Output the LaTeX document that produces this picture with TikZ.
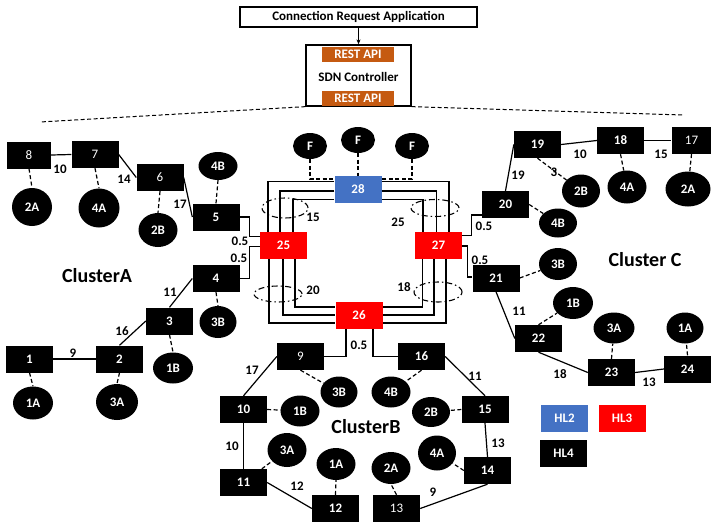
\documentclass[tikz,border=0pt]{standalone}
\usepackage{fontspec}
\setmainfont{Carlito}
\usetikzlibrary{shapes.geometric,calc,arrows.meta}
\definecolor{hltwo}{HTML}{4472C4}
\definecolor{hlthree}{HTML}{FF0000}
\definecolor{apiorange}{HTML}{C55A11}
\begin{document}
\begin{tikzpicture}[x=1pt,y=-1pt,
  nf/.style={font=\fontsize{13}{14}\selectfont\bfseries},
  sw/.style={rectangle,fill=black,text=white,minimum width=47pt,minimum height=27pt,inner sep=0pt,nf},
  swl/.style={sw,font=\fontsize{13}{14}\selectfont},
  hl3/.style={sw,fill=hlthree},
  hl2/.style={sw,fill=hltwo},
  host/.style={ellipse,fill=black,text=white,minimum width=39pt,minimum height=32pt,inner sep=0pt,nf},
  sz/.style 2 args={minimum width=#1pt,minimum height=#2pt},
  lbl/.style={inner sep=0pt,nf},
  clbl/.style={inner sep=0pt,font=\fontsize{20}{22}\selectfont\bfseries},
  lnk/.style={line width=1.2pt},
  dl/.style={line width=1.2pt,dash pattern=on 4pt off 2.5pt},
  grp/.style={ellipse,draw,line width=1.1pt,dash pattern=on 6pt off 3pt on 1.5pt off 3pt,minimum width=#1,inner sep=0pt},
  api/.style={rectangle,fill=apiorange,text=white,minimum width=72pt,minimum height=15pt,inner sep=0pt,nf}
]
\useasboundingbox (0,0) rectangle (711,522);

% ---------- controller ----------
\node[draw,line width=1.3pt,minimum width=237pt,minimum height=20pt,inner sep=0pt,nf] (app) at (358.5,17) {Connection Request Application};
\node[draw,line width=1.3pt,minimum width=105pt,minimum height=61pt,inner sep=0pt] (ctrl) at (358.5,75.5) {};
\node[api] (api1) at (358,54.5) {REST API};
\node[api] (api2) at (358,98.5) {REST API};
\node[lbl] (sdn) at (358.5,77) {SDN Controller};
\draw[line width=1.1pt,-{Stealth[length=5pt,width=4pt]}] (app.south) -- (ctrl.north);
\coordinate (dl1) at (40,122);
\coordinate (dr1) at (683,115);
\draw[dl,line width=1pt] (ctrl.south west) -- (dl1);
\draw[dl,line width=1pt] (ctrl.south east) -- (dr1);

% ---------- core ----------
\node[hl2] (s28) at (358,189.5) {28};
\node[hl3] (s25) at (283.5,245.5) {25};
\node[hl3] (s27) at (438.5,245.5) {27};
\node[hl3] (s26) at (359,315) {26};
\node[host,sz={34}{26}] (F1) at (310,146) {F};
\node[host,sz={34}{26}] (F2) at (358,140) {F};
\node[host,sz={34}{26}] (F3) at (412,146) {F};
\draw[dl] (F1.south) |- ($(s28.west)+(0,-10.5)$);
\draw[dl] (F3.south) |- ($(s28.east)+(0,-10.5)$);
\draw[dl] (F2.south) -- (s28.north);

% 28 - 25
\draw[lnk] ($(s28.west)+(0,-8)$) -| ($(s25.north)+(-15.5,0)$);
\draw[lnk] ($(s28.west)+(0,1.5)$) -| ($(s25.north)+(-3.5,0)$);
\draw[lnk] ($(s28.west)+(0,10)$) -| ($(s25.north)+(9.5,0)$);
% 28 - 27
\draw[lnk] ($(s28.east)+(0,-8)$) -| ($(s27.north)+(10.5,0)$);
\draw[lnk] ($(s28.east)+(0,1.5)$) -| ($(s27.north)+(-2,0)$);
\draw[lnk] ($(s28.east)+(0,10)$) -| ($(s27.north)+(-15.5,0)$);
% 25 - 26
\draw[lnk] ($(s25.south)+(-14.5,0)$) |- ($(s26.west)+(0,8)$);
\draw[lnk] ($(s25.south)+(-0.5,0)$) |- ($(s26.west)+(0,0)$);
\draw[lnk] ($(s25.south)+(11.5,0)$) |- ($(s26.west)+(0,-8)$);
% 27 - 26
\draw[lnk] ($(s27.south)+(-16,0)$) |- ($(s26.east)+(0,-8)$);
\draw[lnk] ($(s27.south)+(-4.5,0)$) |- ($(s26.east)+(0,0)$);
\draw[lnk] ($(s27.south)+(7.5,0)$) |- ($(s26.east)+(0,8)$);

\node[grp=46pt,minimum height=20pt] (e1) at (285,208) {};
\node[grp=48pt,minimum height=17pt] (e2) at (435,208) {};
\node[grp=48pt,minimum height=16pt] (e3) at (278,294) {};
\node[grp=48pt,minimum height=20pt] (e4) at (438,292) {};
\node[lbl] (l15c) at (313,217) {15};
\node[lbl] (l25c) at (398,222) {25};
\node[lbl] (l20c) at (313,290) {20};
\node[lbl] (l18c) at (404,287) {18};

% ---------- cluster A ----------
\node[swl,minimum width=44pt] (s8) at (29,155) {8};
\node[swl] (s7) at (95,154.5) {7};
\node[swl] (s6) at (160,177.5) {6};
\node[sw] (s5) at (216,217) {5};
\node[sw] (s4) at (216,278.5) {4};
\node[sw] (s3) at (169.5,321) {3};
\node[sw] (s2) at (119.5,359) {2};
\node[sw] (s1) at (29.5,359) {1};
\node[host,sz={40}{38}] (hA2A) at (32,207) {2A};
\node[host,sz={41}{39}] (hA4A) at (99,208) {4A};
\node[host,sz={39}{34}] (hA2B) at (158,230) {2B};
\node[host,sz={39}{28}] (hA4B) at (218,166) {4B};
\node[host,sz={37}{32}] (hA3B) at (218,322) {3B};
\node[host,sz={40}{31}] (hA1B) at (173,368) {1B};
\node[host,sz={40}{33}] (hA1A) at (33,403) {1A};
\node[host,sz={42}{36}] (hA3A) at (117,402) {3A};
\draw[lnk] (s8.east) -- (s7.west);
\draw[lnk] (s7.east) -- (s6.west);
\draw[lnk] (s6.east) -- (s5.west);
\draw[lnk] (s4.west) -- (s3.north);
\draw[lnk] (s3.west) -- (s2.north);
\draw[lnk] (s1.east) -- (s2.west);
\draw[dl] (s8.south) -- (hA2A.north);
\draw[dl] (s7.south) -- (hA4A.north);
\draw[dl] (s6.south) -- (hA2B.north);
\draw[dl] (s5.north) -- (hA4B.south);
\draw[dl] (s4.south) -- (hA3B.north);
\draw[dl] (s3.south) -- (hA1B.north);
\draw[dl] (s1.south) -- (hA1A.north);
\draw[dl] (s2.south) -- (hA3A.north);
\draw[lnk] (s5.east) -| ($(s25.west)+(-10,-9)$) -- ($(s25.west)+(0,-9)$);
\draw[lnk] (s4.east) -| ($(s25.west)+(-10,1)$) -- ($(s25.west)+(0,1)$);
\node[lbl] (la10) at (60,169) {10};
\node[lbl] (la14) at (124,179) {14};
\node[lbl] (la17) at (180,204) {17};
\node[lbl] (la05a) at (240,241) {0.5};
\node[lbl] (la05b) at (239,258) {0.5};
\node[lbl] (la11) at (170,292) {11};
\node[lbl] (la16) at (122,331) {16};
\node[lbl] (la9) at (73,353) {9};
\node[clbl] (cA) at (97,276) {ClusterA};

% ---------- cluster C ----------
\node[swl,minimum width=40pt] (s17) at (691.5,140.5) {17};
\node[sw] (s18) at (620.5,140.5) {18};
\node[sw] (s19) at (537.5,144.5) {19};
\node[sw] (s20) at (505.5,204.5) {20};
\node[sw] (s21) at (496,278) {21};
\node[sw] (s22) at (538.5,338.5) {22};
\node[sw] (s23) at (611.5,372.5) {23};
\node[sw] (s24) at (687.5,369) {24};
\node[host,sz={38}{33}] (hC2B) at (581,191) {2B};
\node[host,sz={39}{33}] (hC4A) at (627,187) {4A};
\node[host,sz={45}{35}] (hC2A) at (688,189) {2A};
\node[host,sz={38}{29}] (hC4B) at (558,223) {4B};
\node[host,sz={38}{32}] (hC3B) at (558,264) {3B};
\node[host,sz={40}{32}] (hC1B) at (573,303) {1B};
\node[host,sz={41}{31}] (hC3A) at (614,328) {3A};
\node[host,sz={37}{31}] (hC1A) at (685,328) {1A};
\draw[lnk] (s19.east) -- (s18.west);
\draw[lnk] (s18.east) -- (s17.west);
\draw[lnk] (s20.north) -- (s19.west);
\draw[lnk] (s21.south) -- (s22.west);
\draw[lnk] (s22.south) -- (s23.west);
\draw[lnk] (s23.east) -- (s24.west);
\draw[dl] (s19.south) -- (hC2B);
\draw[dl] (s18.south) -- (hC4A);
\draw[dl] (s17.south) -- (hC2A);
\draw[dl] (s20.east) -- (hC4B);
\draw[dl] (s21.east) -- (hC3B);
\draw[dl] (s22.north) -- (hC1B);
\draw[dl] (s23.north) -- (hC3A);
\draw[dl] (s24.north) -- (hC1A);
\draw[lnk] ($(s27.east)+(0,-10)$) -| ($(s20.west)+(-10,10.5)$) -- ($(s20.west)+(0,10.5)$);
\draw[lnk] ($(s27.east)+(0,0.5)$) -| ($(s21.west)+(-5,-1)$) -- ($(s21.west)+(0,-1)$);
\node[lbl] (lc05a) at (484,226) {0.5};
\node[lbl] (lc05b) at (480,260) {0.5};
\node[lbl] (lc10) at (580,154) {10};
\node[lbl] (lc15) at (661,154) {15};
\node[lbl] (lc19) at (518,175) {19};
\node[lbl] (lc3) at (554,172) {3};
\node[lbl] (lc11) at (519,311) {11};
\node[lbl] (lc18) at (560,374) {18};
\node[lbl] (lc13) at (649,382) {13};
\node[clbl] (cC) at (645,260) {Cluster C};

% ---------- cluster B ----------
\node[swl] (s9) at (300.5,356.5) {9};
\node[sw] (s10) at (243.5,409.5) {10};
\node[sw] (s11) at (243.5,482.5) {11};
\node[sw] (s12) at (335.5,508.5) {12};
\node[swl] (s13) at (396.5,508.5) {13};
\node[sw] (s14) at (487.5,470.5) {14};
\node[sw] (s15) at (485,409.5) {15};
\node[sw] (s16) at (421.5,356.5) {16};
\node[host,sz={37}{31}] (hB3B) at (339,392) {3B};
\node[host,sz={39}{31}] (hB4B) at (391,392) {4B};
\node[host,sz={39}{31}] (hB1B) at (300,411) {1B};
\node[host,sz={38}{30}] (hB2B) at (431,412) {2B};
\node[host,sz={39}{34}] (hB3A) at (287,450) {3A};
\node[host,sz={38}{35}] (hB4A) at (437,453) {4A};
\node[host,sz={39}{32}] (hB1A) at (336,464) {1A};
\node[host,sz={39}{32}] (hB2A) at (391,468) {2A};
\draw[lnk] ($(s26.south)+(-13,0)$) |- (s9.east);
\draw[lnk] ($(s26.south)+(14,0)$) |- (s16.west);
\draw[lnk] (s9.west) -- (s10.north);
\draw[lnk] (s16.east) -- (s15.north);
\draw[lnk] (s10.south) -- (s11.north);
\draw[lnk] (s15.south) -- (s14.north);
\draw[lnk] (s11.east) -- (s12.west);
\draw[lnk] (s13.east) -- (s14.south);
\draw[dl] (s9.south) -- (hB3B);
\draw[dl] (s16.south) -- (hB4B);
\draw[dl] (s10.east) -- (hB1B);
\draw[dl] (s15.west) -- (hB2B);
\draw[dl] (s11) -- (hB3A);
\draw[dl] (s12.north) -- (hB1A.south);
\draw[dl] (s13.north) -- (hB2A.south);
\draw[dl] (s14.west) -- (hB4A);
\node[lbl] (lb05) at (359,345) {0.5};
\node[lbl] (lb17) at (252,370) {17};
\node[lbl] (lb11) at (475,376) {11};
\node[lbl] (lb10) at (232,446) {10};
\node[lbl] (lb13) at (498,443) {13};
\node[lbl] (lb12) at (297,486) {12};
\node[lbl] (lb9) at (433,492) {9};
\node[clbl] (cB) at (366,427) {ClusterB};

% ---------- legend ----------
\node[hl2] (kHL2) at (564.5,418.5) {HL2};
\node[hl3] (kHL3) at (622,418.5) {HL3};
\node[sw] (kHL4) at (563.5,453) {HL4};
\end{tikzpicture}
\end{document}
